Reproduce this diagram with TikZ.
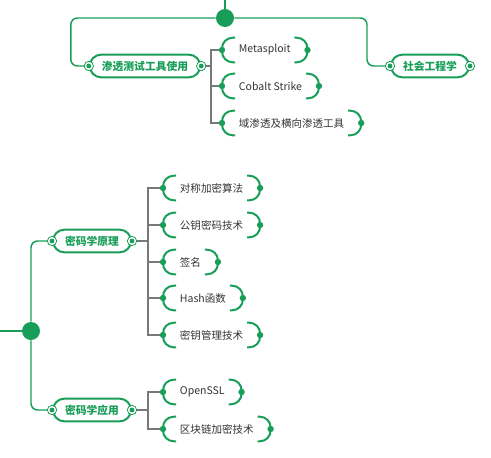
\documentclass[tikz,border=0pt]{standalone}
\usepackage{fontspec}
\setmainfont{Noto Sans CJK SC}
\usetikzlibrary{calc}
\definecolor{mmgreen}{RGB}{24,158,88}
\definecolor{mmtext}{RGB}{51,51,51}
\definecolor{mmgray}{RGB}{120,120,120}
\tikzset{
  branch/.style={draw=mmgreen, line width=1.5pt, fill=white, rounded corners=8.5pt,
    text=mmgreen, font=\fontsize{8.1}{9}\selectfont\bfseries,
    minimum height=17pt, inner xsep=9pt, inner ysep=0pt},
  leaf/.style={anchor=west, text=mmtext, font=\fontsize{7.9}{9}\selectfont,
    minimum height=18pt, inner xsep=12.5pt, inner ysep=0pt},
  hub/.style={circle, fill=mmgreen, inner sep=0pt, minimum size=13.5pt},
  trunk/.style={draw=mmgreen, line width=1.1pt, rounded corners=5pt},
  twig/.style={draw=mmgray, line width=1.1pt},
  bracket/.style={draw=mmgreen, line width=1.5pt, rounded corners=8pt},
  ring/.style={circle, draw=mmgreen, line width=0.6pt, fill=white, inner sep=0pt, minimum size=7pt}
}
\begin{document}
\begin{tikzpicture}[x=0.75pt, y=-0.75pt]
    \useasboundingbox (0,0) rectangle (491,457);

    % upper part
    \coordinate (topin) at (225,0);
    \node[hub] (hubup) at (225,18) {};
    \node[branch] (pen) at (145,66) {渗透测试工具使用};
    \node[branch] (soc) at (430,66) {社会工程学};

    \node[leaf] (ms) at (222,50) {Metasploit};
    \node[leaf] (cs) at (222,86) {Cobalt Strike};
    \node[leaf] (yst) at (222,123) {域渗透及横向渗透工具};

    % lower part
    \coordinate (root) at (0,331);
    \node[hub] (hubdown) at (31,331) {};
    \node[branch] (cp) at (92,241) {密码学原理};
    \node[branch] (ca) at (92,410) {密码学应用};

    \node[leaf] (dc) at (163,188) {对称加密算法};
    \node[leaf] (gy) at (163,225) {公钥密码技术};
    \node[leaf] (qm) at (163,262) {签名};
    \node[leaf] (hs) at (163,298) {Hash函数};
    \node[leaf] (my) at (163,335) {密钥管理技术};
    \node[leaf] (os) at (163,392) {OpenSSL};
    \node[leaf] (qk) at (163,429) {区块链加密技术};

    % green trunks
    \draw[trunk] (topin) -- (hubup);
    \draw[trunk] (hubup) -| ($(pen.west)+(-18,0)$) -- (pen.west);
    \draw[trunk] (hubup) -| ($(soc.west)+(-23,0)$) -- (soc.west);
    \draw[trunk] (root) -- (hubdown);
    \draw[trunk] (hubdown) |- (cp.west);
    \draw[trunk] (hubdown) |- (ca.west);

    % gray twigs
    \foreach \n in {ms,cs,yst}
      \draw[twig] (pen.east) -- ++(10,0) |- (\n.west);
    \foreach \n in {dc,gy,qm,hs,my}
      \draw[twig] (cp.east) -- ++(16,0) |- (\n.west);
    \foreach \n in {os,qk}
      \draw[twig] (ca.east) -- ++(16,0) |- (\n.west);

    % brackets round the leaves
    \foreach \n in {ms,cs,yst,dc,gy,qm,hs,my,os,qk} {
      \draw[bracket] ($(\n.north west)+(13,0)$) -- (\n.north west) -- (\n.south west) -- ($(\n.south west)+(13,0)$);
      \draw[bracket] ($(\n.north east)+(-13,0)$) -- (\n.north east) -- (\n.south east) -- ($(\n.south east)+(-13,0)$);
      \fill[mmgreen] (\n.west) circle[radius=2.4pt];
      \fill[mmgreen] (\n.east) circle[radius=2.4pt];
    }

    % rings on the branch ends
    \foreach \p in {pen,soc,cp,ca}
      \foreach \a in {west,east} {
        \node[ring] at (\p.\a) {};
        \fill[mmgreen] (\p.\a) circle[radius=1.8pt];
      }

\end{tikzpicture}
\end{document}
